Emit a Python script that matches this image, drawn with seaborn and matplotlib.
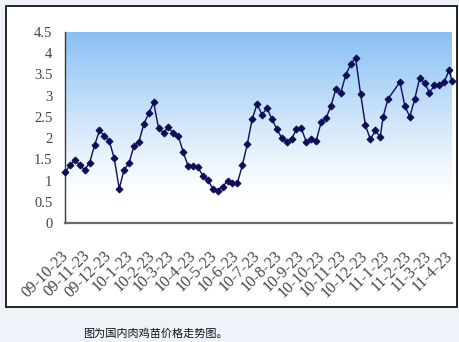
import numpy as np
import pandas as pd
import matplotlib
matplotlib.use("Agg")
import matplotlib.pyplot as plt
import matplotlib.transforms as mtransforms
from matplotlib.colors import LinearSegmentedColormap
from matplotlib.patches import Rectangle
import seaborn as sns

# ---- data ----
regular_dates = pd.date_range("2009-10-23", periods=65, freq="7D")
extra_dates = ["2011-01-18", "2011-01-25", "2011-02-11", "2011-02-18", "2011-02-25",
               "2011-03-04", "2011-03-11", "2011-03-18", "2011-03-25", "2011-04-01",
               "2011-04-08", "2011-04-15", "2011-04-22", "2011-04-26"]
prices = [1.19, 1.36, 1.48, 1.37, 1.25, 1.42, 1.83, 2.18, 2.05, 1.93,
          1.52, 0.81, 1.25, 1.41, 1.82, 1.91, 2.33, 2.58, 2.84, 2.23,
          2.13, 2.26, 2.11, 2.05, 1.67, 1.34, 1.34, 1.31, 1.11, 1.01,
          0.81, 0.76, 0.85, 1.00, 0.94, 0.94, 1.36, 1.85, 2.45, 2.80,
          2.55, 2.71, 2.45, 2.22, 2.00, 1.92, 1.98, 2.21, 2.23, 1.90,
          1.99, 1.94, 2.37, 2.47, 2.76, 3.16, 3.07, 3.49, 3.74, 3.89,
          3.05, 2.30, 1.97, 2.18, 2.02, 2.50, 2.92, 3.32, 2.76, 2.50,
          2.92, 3.41, 3.31, 3.07, 3.24, 3.26, 3.33, 3.60, 3.34]
tick_dates = ["2009-10-23", "2009-11-23", "2009-12-23", "2010-01-23", "2010-02-23",
              "2010-03-23", "2010-04-23", "2010-05-23", "2010-06-23", "2010-07-23",
              "2010-08-23", "2010-09-23", "2010-10-23", "2010-11-23", "2010-12-23",
              "2011-01-23", "2011-02-23", "2011-03-23", "2011-04-23"]
tick_labels = ["09-10-23", "09-11-23", "09-12-23", "10-1-23", "10-2-23", "10-3-23",
               "10-4-23", "10-5-23", "10-6-23", "10-7-23", "10-8-23", "10-9-23",
               "10-10-23", "10-11-23", "10-12-23", "11-1-23", "11-2-23", "11-3-23",
               "11-4-23"]
y_ticks = [0, 0.5, 1, 1.5, 2, 2.5, 3, 3.5, 4, 4.5]
y_labels = ["0", "0.5", "1", "1.5", "2", "2.5", "3", "3.5", "4", "4.5"]
caption = "图为国内肉鸡苗价格走势图。"

dates = list(regular_dates) + list(pd.to_datetime(extra_dates))
df = pd.DataFrame({"date": dates, "price": prices})

# ---- figure ----
sns.set_style("white")
plt.rcParams["font.family"] = ["Liberation Serif", "DejaVu Serif"]

fig = plt.figure(figsize=(4.6, 3.42), dpi=100)
fig.patch.set_facecolor("#eef3f9")

# white framed panel
frame = Rectangle((6 / 460, 1 - 307 / 342), 451 / 460, 301 / 342,
                  transform=fig.transFigure, facecolor="white",
                  edgecolor="black", linewidth=1.2, zorder=-5)
fig.add_artist(frame)

ax = fig.add_axes([65 / 460, 1 - 223 / 342, 387 / 460, 191 / 342])
ax.set_zorder(5)
ax.set_facecolor("none")

# gradient background
t = np.linspace(1, 0, 256)
blend = np.clip((t - 0.15) / 0.85, 0, 1) ** 1.15
cmap = LinearSegmentedColormap.from_list("g", ["#ffffff", "#88c0f3"])
ax.imshow(blend[:, None], extent=[0, 1, 0, 1], transform=ax.transAxes,
          aspect="auto", cmap=cmap, vmin=0, vmax=1, zorder=0)

sns.lineplot(data=df, x="date", y="price", ax=ax, color="#0c0c58",
             linewidth=1.0, marker="D", markersize=3.5,
             markeredgecolor="#0c0c58", markerfacecolor="#0c0c58",
             zorder=3, clip_on=False)

ax.set_xlim(pd.Timestamp("2009-10-23"), pd.Timestamp("2011-04-26"))
ax.set_ylim(0, 4.5)

ax.set_yticks(y_ticks)
ax.set_yticklabels(y_labels)
ax.set_xticks(pd.to_datetime(tick_dates))
ax.set_xticklabels(tick_labels)

ax.set_xlabel("")
ax.set_ylabel("")

for s in ["top", "right"]:
    ax.spines[s].set_visible(False)
ax.spines["left"].set_color("#3a3a3a")
ax.spines["left"].set_linewidth(1.0)
ax.spines["bottom"].set_color("#6a6a6a")
ax.spines["bottom"].set_linewidth(1.6)

ax.tick_params(axis="y", direction="in", length=4, width=1, color="#3a3a3a",
               labelsize=10.5, labelcolor="#444444", pad=9)
ax.tick_params(axis="x", direction="in", length=4, width=1, color="#555555",
               labelsize=11.5, labelcolor="#444444", pad=0)

offset = mtransforms.ScaledTranslation(-5 / 100, -25 / 100, fig.dpi_scale_trans)
for lab in ax.get_xticklabels():
    lab.set_rotation(45)
    lab.set_rotation_mode("anchor")
    lab.set_ha("right")
    lab.set_va("top")
    lab.set_transform(lab.get_transform() + offset)

fig.text(83 / 460, 1 - 333.5 / 342, caption, ha="left", va="center",
         fontsize=8, color="#111111",
         family=["Noto Sans CJK SC", "DejaVu Sans"])

fig.savefig("out.png", dpi=100, facecolor=fig.get_facecolor())
